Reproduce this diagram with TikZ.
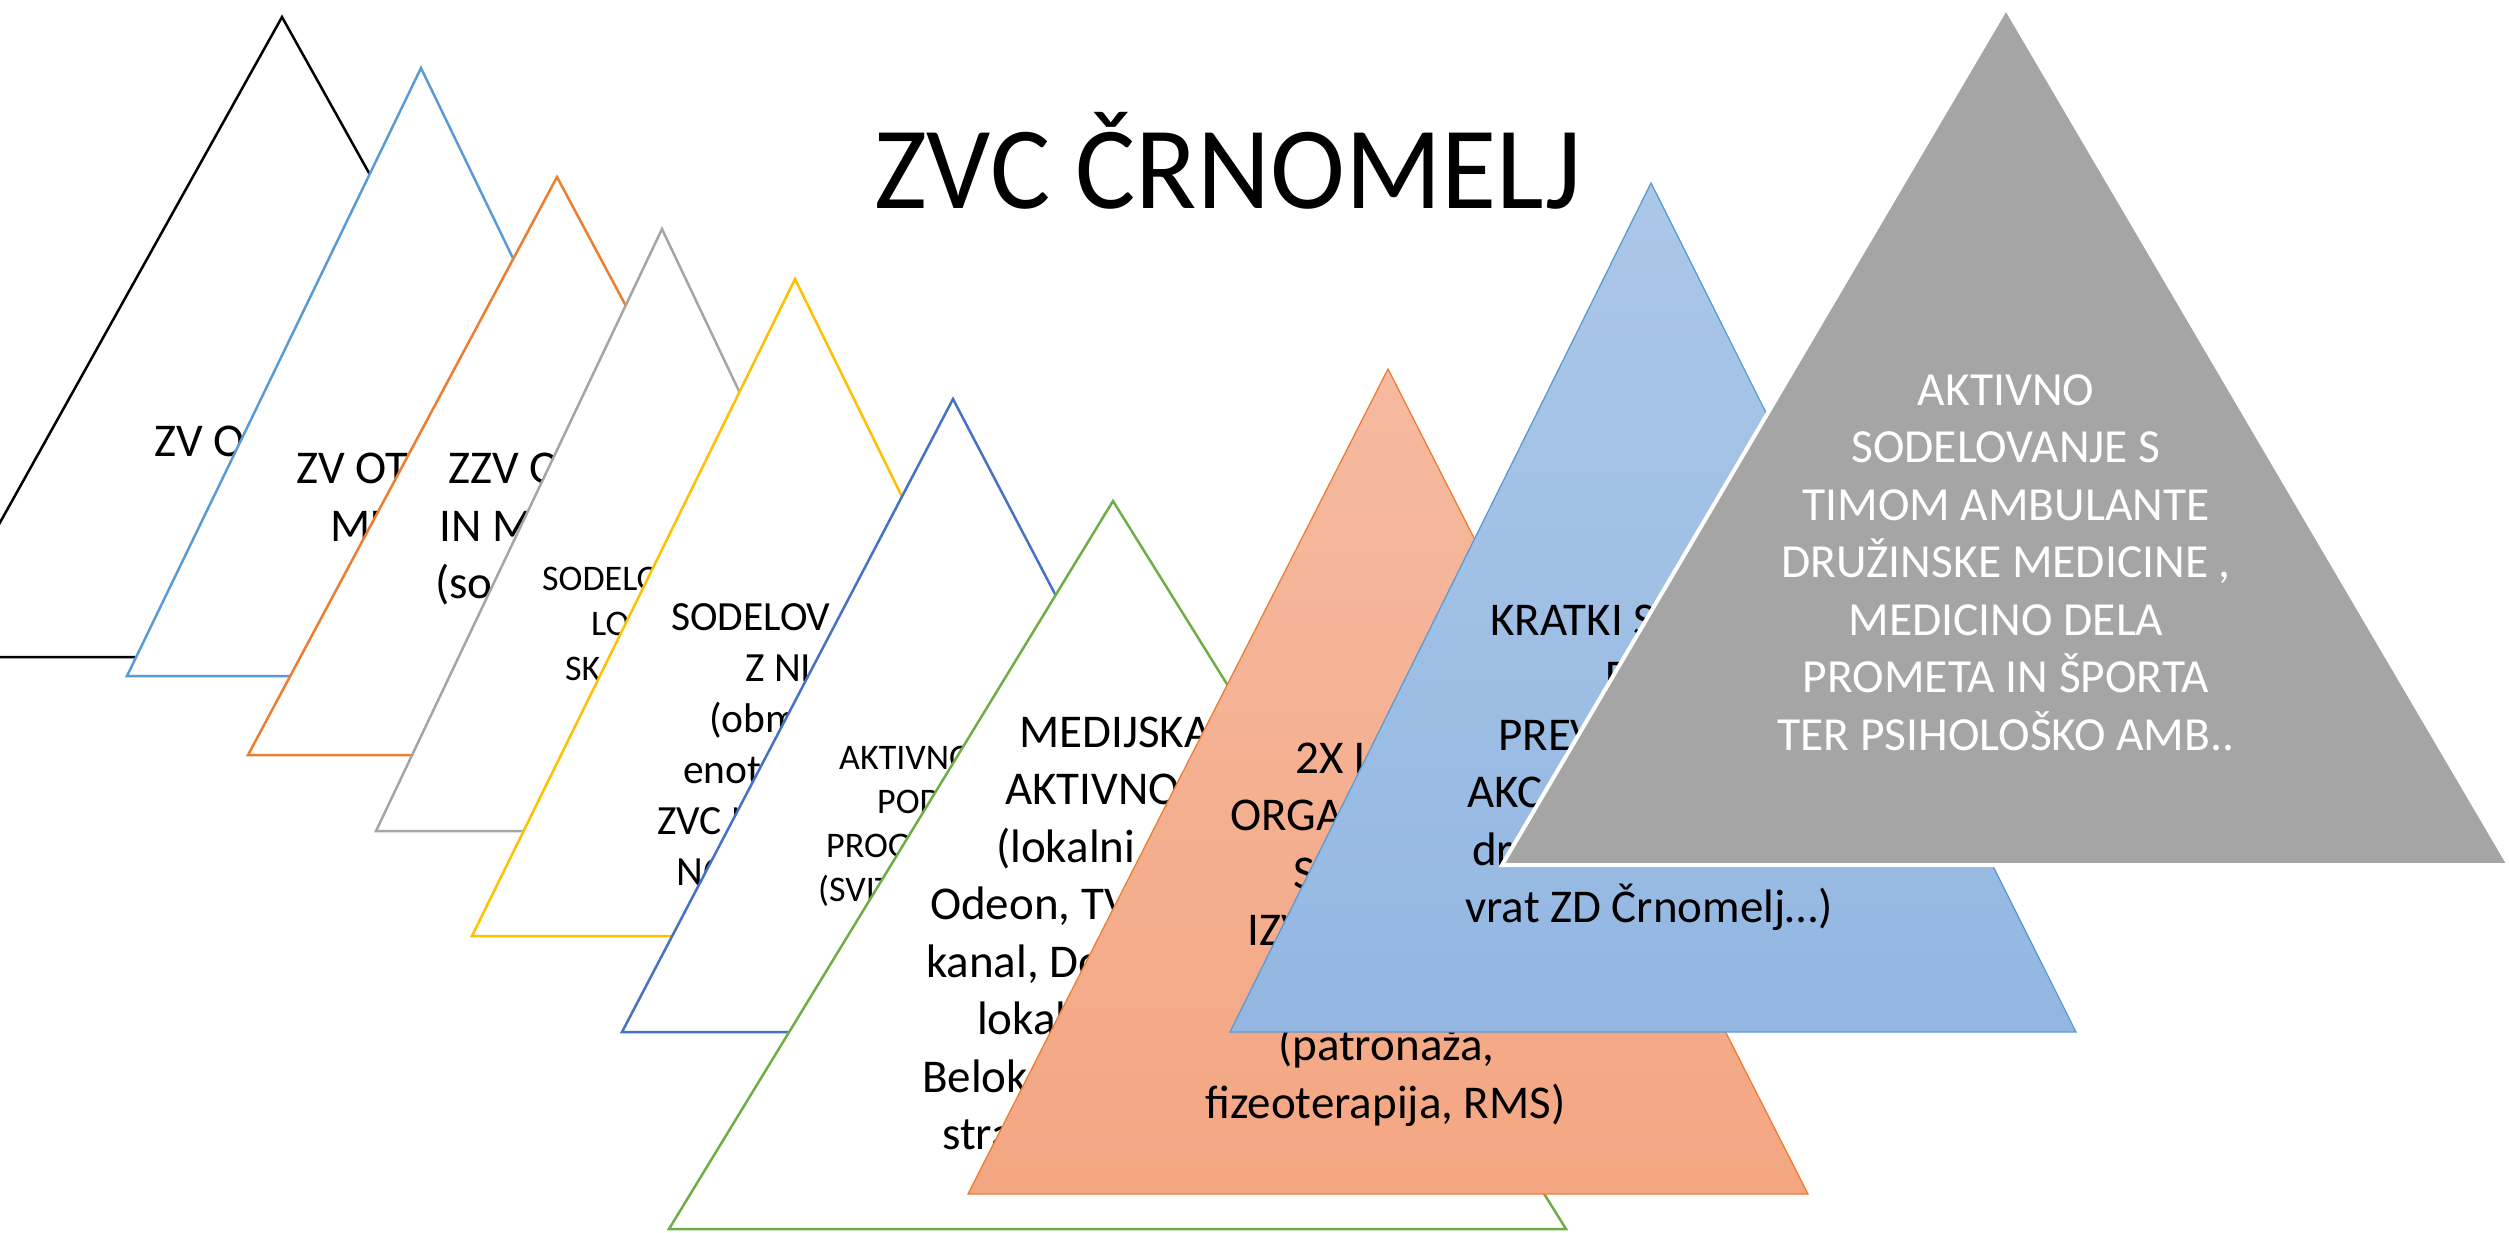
\documentclass[tikz,border=0pt]{standalone}
\usepackage{fontspec}
\setmainfont{Carlito}
\definecolor{cblack}{HTML}{000000}
\definecolor{cblue}{HTML}{5B9BD5}
\definecolor{corange}{HTML}{ED7D31}
\definecolor{cgray}{HTML}{A5A5A5}
\definecolor{cyellow}{HTML}{FFC000}
\definecolor{cdblue}{HTML}{4472C4}
\definecolor{cgreen}{HTML}{70AD47}
\definecolor{salmtop}{HTML}{F5BAA0}
\definecolor{salmbot}{HTML}{F4A682}
\definecolor{bltop}{HTML}{ABC7E8}
\definecolor{blbot}{HTML}{93B7E2}
\begin{document}
\begin{tikzpicture}[x=1pt,y=-1pt,
  tri/.style={fill=white, line width=2.5pt, line join=miter},
  txtL/.style={anchor=base west, inner sep=0pt, font=\fontsize{47}{57}\selectfont},
  txtM/.style={anchor=base west, inner sep=0pt, font=\fontsize{41.5}{51}\selectfont},
  txtS/.style={anchor=base west, inner sep=0pt, font=\fontsize{36}{44}\selectfont},
  txtW/.style={anchor=base, inner sep=0pt, text=white, font=\fontsize{47.5}{57.5}\selectfont}]
\useasboundingbox (0,0) rectangle (2509,1232);
\fill[white] (0,0) rectangle (2509,1232);

% 1 black
\draw[tri, draw=cblack] (282,17) -- (639,657) -- (-75,657) -- cycle;
\node[txtL] (t1a) at (154,456) {ZV O};

% 2 light blue outline
\draw[tri, draw=cblue] (421,68) -- (715,676) -- (127,676) -- cycle;
\node[txtL] (t2a) at (296,483) {ZV OT};
\node[txtL] (t2b) at (330,541) {ML};

% 3 orange outline
\draw[tri, draw=corange] (557,177) -- (866,755) -- (248,755) -- cycle;
\node[txtL] (t3a) at (448,483) {ZZV O};
\node[txtL] (t3b) at (439,541) {IN M};
\node[txtL] (t3c) at (435,598) {(so};

% 4 gray outline
\draw[tri, draw=cgray] (662,229) -- (948,831) -- (376,831) -- cycle;
\node[txtS] (t4a) at (542,590) {SODELO};
\node[txtS] (t4b) at (591,635) {LO};
\node[txtS] (t4c) at (565,680) {SK};

% 5 yellow outline
\draw[tri, draw=cyellow] (795,279) -- (1118,936) -- (472,936) -- cycle;
\node[txtM] (t5a) at (671,630) {SODELOV};
\node[txtM] (t5b) at (745,681) {Z NI};
\node[txtM] (t5c) at (709,732) {(obm};
\node[txtM] (t5d) at (683,783) {enot};
\node[txtM] (t5e) at (657,834) {ZVC N};
\node[txtM] (t5f) at (676,885) {NO};

% 6 dark blue outline
\draw[tri, draw=cdblue] (953,399) -- (1284,1032) -- (622,1032) -- cycle;
\node[txtS] (t6a) at (839,769) {AKTIVNO};
\node[txtS] (t6b) at (877,813) {POD};
\node[txtS] (t6c) at (826,857) {PROG};
\node[txtS] (t6d) at (818,901) {(SVIT};

% 7 green outline
\draw[tri, draw=cgreen] (1113,501) -- (1566,1229) -- (669,1229) -- cycle;
\node[txtL] (t7a) at (1019,747) {MEDIJSKA};
\node[txtL] (t7b) at (1005,804) {AKTIVNO};
\node[txtL] (t7c) at (996,862) {(lokalni};
\node[txtL] (t7d) at (930,919) {Odeon, TV};
\node[txtL] (t7e) at (926,977) {kanal, Do};
\node[txtL] (t7f) at (977,1034) {lokal};
\node[txtL] (t7g) at (922,1092) {Belok};
\node[txtL] (t7h) at (942,1149) {stra};

% 8 salmon filled
\shade[top color=salmtop, bottom color=salmbot] (1388,369) -- (1808,1194) -- (968,1194) -- cycle;
\draw[draw=corange, line width=1.3pt, line join=miter] (1388,369) -- (1808,1194) -- (968,1194) -- cycle;
\node[txtL] (t8a) at (1295,773) {2X L};
\node[txtL] (t8b) at (1230,830) {ORGA};
\node[txtL] (t8c) at (1293,888) {S};
\node[txtL] (t8d) at (1247,945) {IZV};
\node[txtL] (t8e) at (1278,1060) {(patronaža,};
\node[txtL] (t8f) at (1205,1118) {fizeoterapija, RMS)};

% 9 light blue filled
\shade[top color=bltop, bottom color=blbot] (1651,183) -- (2076,1032) -- (1230,1032) -- cycle;
\draw[draw=cblue, line width=1.3pt, line join=miter] (1651,183) -- (2076,1032) -- (1230,1032) -- cycle;
\node[txtL] (t9a) at (1490,635) {KRATKI S};
\node[txtL] (t9b) at (1605,692) {D};
\node[txtL] (t9c) at (1498,750) {PREV};
\node[txtL] (t9d) at (1467,807) {AKC};
\node[txtL] (t9e) at (1472,865) {dr};
\node[txtL] (t9f) at (1465,922) {vrat ZD Črnomelj…)};

% 10 gray filled, white border
\filldraw[fill=cgray, draw=white, line width=4pt, line join=miter] (2006,8) -- (2509,865) -- (1502,865) -- cycle;
\node[txtW] (t10a) at (2006,405) {AKTIVNO};
\node[txtW] (t10b) at (2006,462.5) {SODELOVANJE S};
\node[txtW] (t10c) at (2006,520) {TIMOM AMBULANTE};
\node[txtW] (t10d) at (2006,577.5) {DRUŽINSKE MEDICINE ,};
\node[txtW] (t10e) at (2006,635) {MEDICINO DELA};
\node[txtW] (t10f) at (2006,692.5) {PROMETA IN ŠPORTA};
\node[txtW] (t10g) at (2006,750) {TER PSIHOLOŠKO AMB..};

% title
\node[anchor=base, inner sep=0pt, font=\fontsize{113}{136}\selectfont] (title) at (1228,208) {\scalebox{1}[1.04]{ZVC ČRNOMELJ}};
\end{tikzpicture}
\end{document}
